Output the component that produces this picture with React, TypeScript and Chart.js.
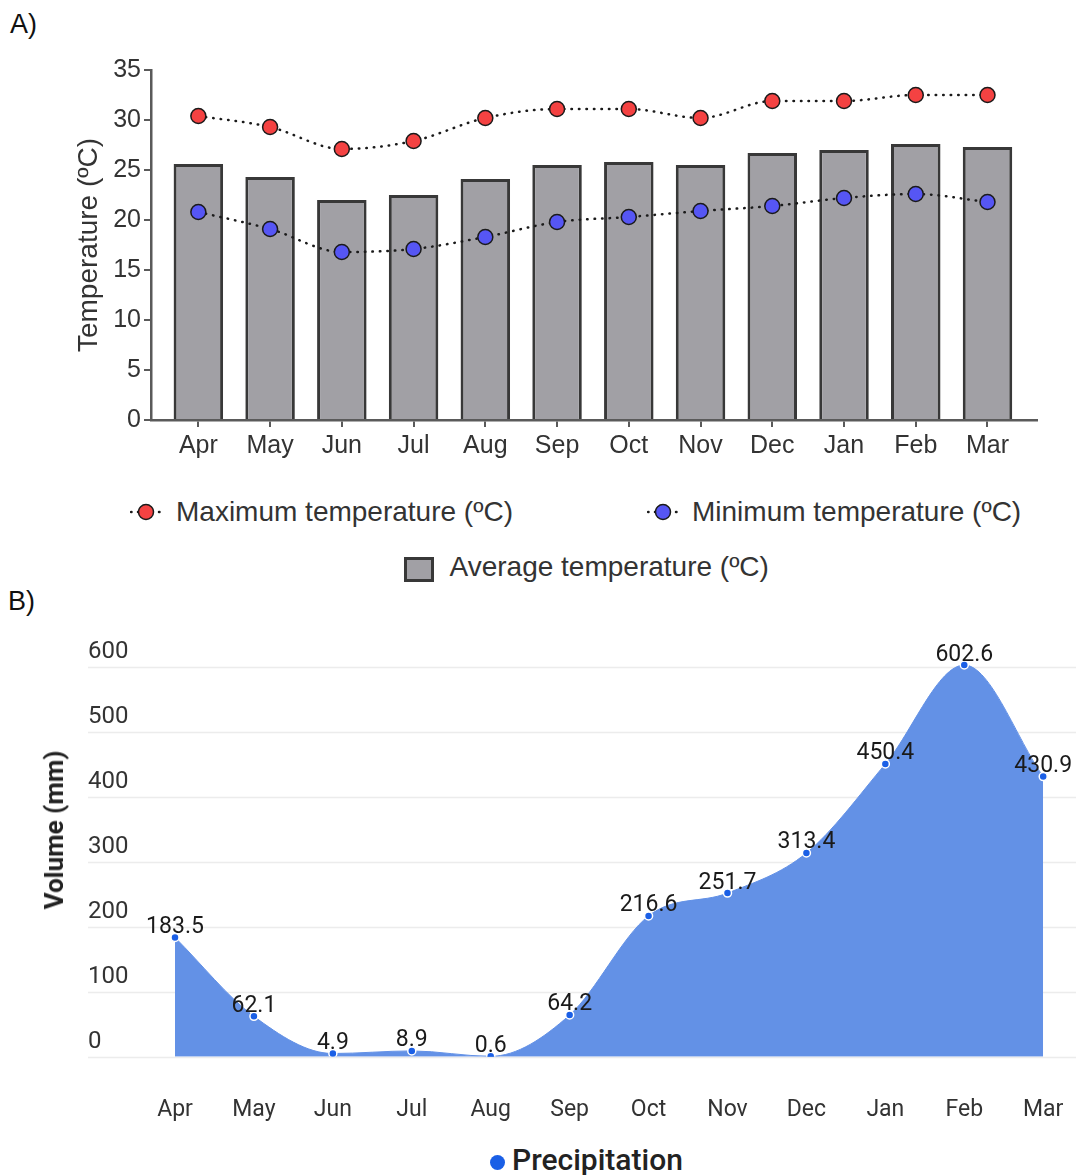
import React, { useEffect, useRef } from "react";
import { Chart, registerables } from "chart.js";

Chart.register(...registerables);

// ---- data ----
const months = ["Apr", "May", "Jun", "Jul", "Aug", "Sep", "Oct", "Nov", "Dec", "Jan", "Feb", "Mar"];
const avgTemp = [25.6, 24.3, 22.0, 22.5, 24.1, 25.5, 25.8, 25.5, 26.7, 27.0, 27.6, 27.3];
const maxTemp = [30.4, 29.3, 27.1, 27.9, 30.2, 31.1, 31.1, 30.2, 31.9, 31.9, 32.5, 32.5];
const minTemp = [20.8, 19.1, 16.8, 17.1, 18.3, 19.8, 20.3, 20.9, 21.4, 22.2, 22.6, 21.8];
const tempTicks = [0, 5, 10, 15, 20, 25, 30, 35];

const precipitation = [183.5, 62.1, 4.9, 8.9, 0.6, 64.2, 216.6, 251.7, 313.4, 450.4, 602.6, 430.9];
const volumeTicks = [0, 100, 200, 300, 400, 500, 600];

// ---- styling ----
const sans = "'Liberation Sans', Arial, Helvetica, sans-serif";
const roboto = "Roboto, 'Noto Sans', sans-serif";
const axisGray = "#5a5a5a";
const textGray = "#333333";
const maxRed = "#f44242";
const minBlue = "#5656f4";
const barGray = "#a1a0a5";
const barEdge = "#383838";
const areaBlue = "#6391e6";
const pointBlue = "#1a5fe6";

const toXY = (arr: number[]) => arr.map((v, i) => ({ x: i, y: v }));

// horizontal guide lines for the precipitation panel, running out to the canvas edge
const fullWidthGrid = {
  id: "fullWidthGrid",
  beforeDatasetsDraw(chart: any) {
    const { ctx } = chart;
    const y = chart.scales.y;
    ctx.save();
    ctx.strokeStyle = "#ececec";
    ctx.lineWidth = 1.5;
    volumeTicks.forEach((v) => {
      const py = Math.round(y.getPixelForValue(v)) + 0.5;
      ctx.beginPath();
      ctx.moveTo(y.left, py);
      ctx.lineTo(chart.width, py);
      ctx.stroke();
    });
    ctx.restore();
  },
};

// value labels above each precipitation point
const valueLabels = {
  id: "valueLabels",
  afterDatasetsDraw(chart: any) {
    const { ctx } = chart;
    const meta = chart.getDatasetMeta(0);
    ctx.save();
    ctx.font = `23px ${roboto}`;
    ctx.textAlign = "center";
    ctx.textBaseline = "alphabetic";
    ctx.fillStyle = "#1a1a1a";
    meta.data.forEach((pt: any, i: number) => {
      ctx.fillText(precipitation[i].toFixed(1), pt.x, pt.y - 4.5);
    });
    ctx.restore();
  },
};

function LineMarker({ cx, cy, fill }: { cx: number; cy: number; fill: string }) {
  return (
    <svg
      style={{ position: "absolute", left: cx - 16, top: cy - 10 }}
      width={32}
      height={20}
    >
      <line
        x1={1}
        y1={10}
        x2={31}
        y2={10}
        stroke="#1a1a1a"
        strokeWidth={2.5}
        strokeDasharray="0.5 6.5"
        strokeLinecap="round"
      />
      <circle cx={16} cy={10} r={7.5} fill={fill} stroke="#1a1a1a" strokeWidth={1.5} />
    </svg>
  );
}

const legendText = (left: number, top: number, text: string) => (
  <div
    style={{
      position: "absolute",
      left,
      top,
      fontFamily: sans,
      fontSize: 28,
      lineHeight: "28px",
      color: textGray,
      whiteSpace: "nowrap",
    }}
  >
    {text}
  </div>
);

const panelLabel = (top: number, left: number, text: string) => (
  <div
    style={{
      position: "absolute",
      left,
      top,
      fontFamily: sans,
      fontSize: 27,
      lineHeight: "27px",
      color: "#111",
      whiteSpace: "nowrap",
    }}
  >
    {text}
  </div>
);

export default function App() {
  const tempRef = useRef<HTMLCanvasElement | null>(null);
  const rainRef = useRef<HTMLCanvasElement | null>(null);

  useEffect(() => {
    if (!tempRef.current || !rainRef.current) return;

    const axisGrid = {
      display: true,
      drawOnChartArea: false,
      drawTicks: true,
      tickLength: 7,
      color: axisGray,
      lineWidth: 2,
      offset: false,
    };
    const axisBorder = { display: true, color: axisGray, width: 2.5 };

    const tempChart = new Chart(tempRef.current, {
      type: "bar",
      data: {
        datasets: [
          {
            type: "line",
            label: "Maximum temperature (ºC)",
            data: toXY(maxTemp),
            borderColor: "#1a1a1a",
            borderWidth: 2.5,
            borderDash: [0.5, 7],
            borderCapStyle: "round",
            cubicInterpolationMode: "monotone",
            pointRadius: 7.5,
            pointBorderWidth: 1.5,
            pointBorderColor: "#1a1a1a",
            pointBackgroundColor: maxRed,
            fill: false,
          },
          {
            type: "line",
            label: "Minimum temperature (ºC)",
            data: toXY(minTemp),
            borderColor: "#1a1a1a",
            borderWidth: 2.5,
            borderDash: [0.5, 7],
            borderCapStyle: "round",
            cubicInterpolationMode: "monotone",
            pointRadius: 7.5,
            pointBorderWidth: 1.5,
            pointBorderColor: "#1a1a1a",
            pointBackgroundColor: minBlue,
            fill: false,
          },
          {
            type: "bar",
            label: "Average temperature (ºC)",
            data: toXY(avgTemp),
            backgroundColor: barGray,
            borderColor: barEdge,
            borderWidth: 3,
            barPercentage: 0.69,
            categoryPercentage: 1,
          },
        ],
      } as any,
      options: {
        animation: false,
        responsive: false,
        maintainAspectRatio: false,
        layout: { padding: { top: 70, right: 39, left: 0, bottom: 0 } },
        plugins: { legend: { display: false }, tooltip: { enabled: false } },
        scales: {
          x: {
            type: "linear",
            offset: false,
            min: -0.66,
            max: 11.69,
            afterBuildTicks: (s: any) => {
              s.ticks = months.map((_, i) => ({ value: i }));
            },
            afterFit: (s: any) => {
              s.height = 50;
            },
            grid: axisGrid,
            border: axisBorder,
            ticks: {
              callback: (v: any) => months[v] ?? "",
              font: { family: sans, size: 25 },
              color: textGray,
              padding: 4,
              autoSkip: false,
              maxRotation: 0,
            },
          },
          y: {
            min: 0,
            max: 35,
            afterBuildTicks: (s: any) => {
              s.ticks = tempTicks.map((v) => ({ value: v }));
            },
            afterFit: (s: any) => {
              s.width = 151;
            },
            grid: axisGrid,
            border: axisBorder,
            ticks: {
              font: { family: sans, size: 25 },
              color: textGray,
              padding: 3,
            },
            title: {
              display: true,
              text: "Temperature (ºC)",
              font: { family: sans, size: 28 },
              color: textGray,
              padding: { top: 72, bottom: 0 },
            },
          },
        },
      } as any,
    });

    const rainChart = new Chart(rainRef.current, {
      type: "line",
      data: {
        labels: months,
        datasets: [
          {
            label: "Precipitation",
            data: precipitation,
            fill: "origin",
            backgroundColor: areaBlue,
            borderColor: areaBlue,
            borderWidth: 1,
            cubicInterpolationMode: "monotone",
            pointRadius: 4,
            pointBackgroundColor: pointBlue,
            pointBorderColor: "#ffffff",
            pointBorderWidth: 1.5,
          },
        ],
      },
      options: {
        animation: false,
        responsive: false,
        maintainAspectRatio: false,
        layout: { padding: { top: 70.2, right: 32.8, left: 88, bottom: 0 } },
        plugins: { legend: { display: false }, tooltip: { enabled: false } },
        scales: {
          x: {
            afterFit: (s: any) => {
              s.height = 78.3;
            },
            // invisible tick marks push the month labels down without widening the side padding
            grid: {
              display: true,
              drawOnChartArea: false,
              drawTicks: true,
              tickLength: 40,
              color: "rgba(0,0,0,0)",
            },
            border: { display: false },
            ticks: {
              font: { family: roboto, size: 23 },
              color: textGray,
              padding: 0,
              autoSkip: false,
              maxRotation: 0,
            },
          },
          y: {
            min: 0,
            max: 610,
            afterBuildTicks: (s: any) => {
              s.ticks = volumeTicks.map((v) => ({ value: v }));
            },
            afterFit: (s: any) => {
              s.width = 87;
            },
            grid: { display: false },
            border: { display: false },
            ticks: {
              crossAlign: "far",
              padding: 45,
              labelOffset: -15,
              font: { family: roboto, size: 24 },
              color: textGray,
            },
          },
        },
      } as any,
      plugins: [fullWidthGrid, valueLabels],
    });

    return () => {
      tempChart.destroy();
      rainChart.destroy();
    };
  }, []);

  return (
    <div
      style={{
        position: "absolute",
        left: 0,
        top: 0,
        width: 1076,
        height: 1175,
        background: "#ffffff",
        overflow: "hidden",
      }}
    >
      {panelLabel(11, 10, "A)")}
      <canvas
        ref={tempRef}
        width={1076}
        height={470}
        style={{ position: "absolute", left: 0, top: 0, width: 1076, height: 470 }}
      />

      <LineMarker cx={146} cy={511.5} fill={maxRed} />
      {legendText(176, 498.3, "Maximum temperature (ºC)")}
      <LineMarker cx={663} cy={511.5} fill={minBlue} />
      {legendText(692, 498.3, "Minimum temperature (ºC)")}
      <div
        style={{
          position: "absolute",
          left: 404,
          top: 557,
          width: 30,
          height: 25,
          boxSizing: "border-box",
          border: `3px solid ${barEdge}`,
          background: barGray,
        }}
      />
      {legendText(449.5, 553.3, "Average temperature (ºC)")}

      {panelLabel(588, 8, "B)")}
      <canvas
        ref={rainRef}
        width={1076}
        height={545}
        style={{ position: "absolute", left: 0, top: 590, width: 1076, height: 545 }}
      />
      <div
        style={{
          position: "absolute",
          left: 54,
          top: 830,
          transform: "translate(-50%, -50%) rotate(-90deg)",
          fontFamily: roboto,
          fontSize: 26,
          fontWeight: 700,
          lineHeight: "26px",
          color: "#222",
          whiteSpace: "nowrap",
        }}
      >
        Volume (mm)
      </div>
      <div
        style={{
          position: "absolute",
          left: 490,
          top: 1155,
          width: 15,
          height: 15,
          borderRadius: "50%",
          background: pointBlue,
        }}
      />
      <div
        style={{
          position: "absolute",
          left: 512,
          top: 1145.4,
          fontFamily: roboto,
          fontSize: 30,
          fontWeight: 500,
          lineHeight: "30px",
          color: "#222",
          whiteSpace: "nowrap",
        }}
      >
        Precipitation
      </div>
    </div>
  );
}
